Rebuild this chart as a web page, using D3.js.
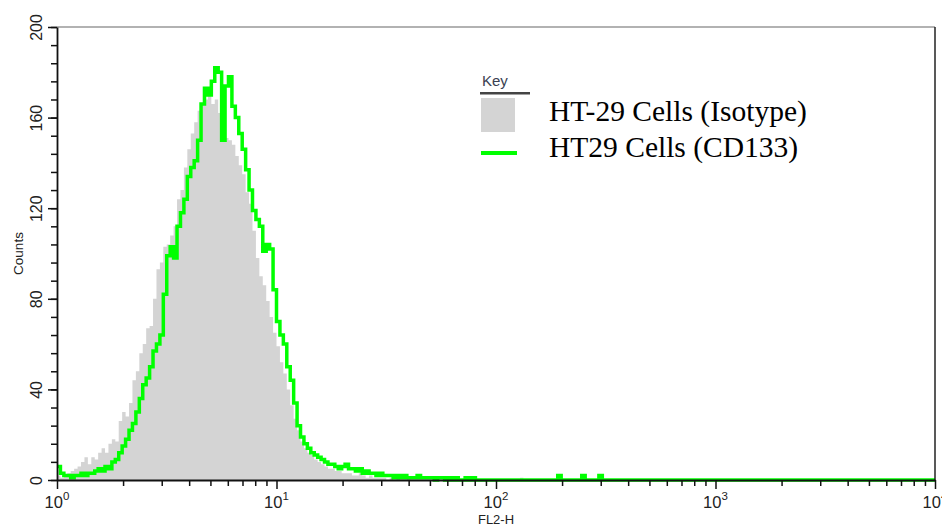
<!DOCTYPE html>
<html>
<head>
<meta charset="utf-8">
<script src="https://cdn.jsdelivr.net/npm/d3@7"></script>
<style>
  body { margin: 0; background: #fff; }
  svg { display: block; }
  .sans { font-family: "Liberation Sans", Arial, Helvetica, sans-serif; }
  .serif { font-family: "Liberation Serif", "Times New Roman", serif; }
</style>
</head>
<body>
<svg id="chart" class="sans" width="942" height="527"></svg>
<script>
// histogram values, one per channel (64 channels per decade, 10^0 .. 10^4)
const isotypeCounts = [
  2,1,2,3,4,5,6,8,10,7,10,9,12,14,12,16,
  18,17,26,30,28,34,44,48,56,60,67,68,80,93,96,103,
  104,108,112,124,128,138,146,153,158,163,166,168,171,166,168,162,
  160,151,150,148,143,139,135,127,122,110,98,90,86,79,72,65,
  59,52,47,40,33,27,22,17,14,12,11,9,8,7,6,5,
  5,4,4,3,3,3,2,2,3,2,1,2,1,1,1,1,
  0,1,0,1,0,0,1,0,0,0,0,0,0,0,0,0,
  0,0,0,0,0,0,0,0,0,0,0,0,0,0,0,0,
  0,0,0,0,0,0,0,1,0,0,0,0,0,0,0,0,
  0,0,0,0,0,0,0,0,0,0,0,0,0,0,0,0,
  0,0,0,0,0,0,0,0,0,0,0,0,0,0,0,0,
  0,0,0,0,0,0,0,0,0,0,0,0,0,0,0,0,
  0,0,0,0,0,0,0,0,0,0,0,0,0,0,0,0,
  0,0,0,0,0,0,0,0,0,0,0,0,0,0,0,0,
  0,0,0,0,0,0,0,0,0,0,0,0,0,0,0,0,
  0,0,0,0,0,0,0,0,0,0,0,0,0,0,0,0
];

const cd133Counts = [
  6,3,2,2,1,2,2,3,2,3,3,4,5,4,6,5,
  8,9,12,15,18,22,25,30,36,42,45,50,57,60,64,82,
  99,103,98,112,118,124,134,138,141,150,166,173,170,176,182,180,
  150,174,178,165,160,153,146,137,128,119,115,112,101,104,102,84,
  70,64,60,50,44,34,24,19,16,14,12,11,10,9,8,7,
  7,6,5,6,7,5,5,4,5,3,4,3,3,2,3,2,
  2,2,1,2,1,2,1,1,1,2,1,1,1,1,0,1,
  1,0,1,0,1,0,0,1,0,1,0,0,0,0,0,0,
  0,0,0,0,0,0,0,0,0,0,0,0,0,0,0,0,
  0,0,2,0,0,0,0,0,0,2,0,0,0,0,2,0,
  0,0,0,0,0,0,0,0,0,0,0,0,0,0,0,0,
  0,0,0,0,0,0,0,0,0,0,0,0,0,0,0,0,
  0,0,0,0,0,0,0,0,0,0,0,0,0,0,0,0,
  0,0,0,0,0,0,0,0,0,0,0,0,0,0,0,0,
  0,0,0,0,0,0,0,0,0,0,0,0,0,0,0,0,
  0,0,0,0,0,0,0,0,0,0,0,0,0,0,0,0
];

const seriesNames = ["HT-29 Cells (Isotype)", "HT29 Cells (CD133)"];
const yMajorTicks = [0, 40, 80, 120, 160, 200];
const xDecades = [1, 10, 100, 1000, 10000];
const xExponents = ["0", "1", "2", "3", "4"];
const channelsPerDecade = 64;

const svg = d3.select("#chart");
const plot = { left: 57, right: 935, top: 27, bottom: 480 };

const x = d3.scaleLog().domain([1, 10000]).range([plot.left, plot.right]);
const y = d3.scaleLinear().domain([0, 200]).range([plot.bottom, plot.top]);

// channel i spans [10^(i/64), 10^((i+1)/64)]
function toSteps(counts) {
  const pts = counts.map((v, i) => ({ lo: Math.pow(10, i / channelsPerDecade), v }));
  pts.push({ lo: 10000, v: counts[counts.length - 1] });
  return pts;
}

// filled isotype histogram
const area = d3.area()
  .curve(d3.curveStepAfter)
  .x(d => x(d.lo))
  .y0(y(0))
  .y1(d => y(d.v));

svg.append("path")
  .datum(toSteps(isotypeCounts))
  .attr("d", area)
  .attr("fill", "#d4d4d4");

// CD133 outline
const line = d3.line()
  .curve(d3.curveStepAfter)
  .x(d => x(d.lo))
  .y(d => y(d.v));

svg.append("path")
  .datum(toSteps(cd133Counts))
  .attr("d", line)
  .attr("fill", "none")
  .attr("stroke", "#00ff00")
  .attr("stroke-width", 3.5);

// frame (top + right)
svg.append("line")
  .attr("x1", plot.left).attr("x2", plot.right)
  .attr("y1", plot.top).attr("y2", plot.top)
  .attr("stroke", "#666").attr("stroke-width", 1.2);
svg.append("line")
  .attr("x1", plot.right).attr("x2", plot.right)
  .attr("y1", plot.top).attr("y2", plot.bottom)
  .attr("stroke", "#222").attr("stroke-width", 1.5);

// y axis
const yMinor = svg.append("g")
  .attr("transform", `translate(${plot.left},0)`)
  .call(d3.axisLeft(y).tickValues(d3.range(0, 201, 8)).tickSize(6).tickFormat(""));
yMinor.select(".domain").remove();

const yAxis = svg.append("g")
  .attr("transform", `translate(${plot.left},0)`)
  .call(d3.axisLeft(y).tickValues(yMajorTicks).tickSize(9).tickSizeOuter(0));
yAxis.attr("font-family", null).attr("font-size", 16);
yAxis.selectAll("text")
  .attr("transform", "rotate(-90)")
  .attr("x", 0).attr("y", -15).attr("dy", 0)
  .attr("text-anchor", "middle")
  .attr("fill", "#222");

// x axis
const minorX = [];
xDecades.slice(0, -1).forEach(d => { for (let m = 2; m <= 9; m++) minorX.push(d * m); });

const xMinor = svg.append("g")
  .attr("transform", `translate(0,${plot.bottom})`)
  .call(d3.axisBottom(x).tickValues(minorX).tickSize(6).tickFormat(""));
xMinor.select(".domain").remove();

const xAxis = svg.append("g")
  .attr("transform", `translate(0,${plot.bottom})`)
  .call(d3.axisBottom(x).tickValues(xDecades).tickSize(9).tickSizeOuter(0).tickFormat(""));

[yMinor, yAxis, xMinor, xAxis].forEach(g => {
  g.selectAll("line").attr("stroke", "#111").attr("stroke-width", 1.5);
  g.selectAll(".domain").attr("stroke", "#111").attr("stroke-width", 1.8);
});

const xLabels = svg.append("g");
xDecades.forEach((d, i) => {
  const t = xLabels.append("text")
    .attr("x", x(d)).attr("y", 508)
    .attr("text-anchor", "middle")
    .attr("font-size", 16.5)
    .attr("fill", "#222");
  t.append("tspan").text("10");
  t.append("tspan").attr("dy", -8).attr("font-size", 11.5).text(xExponents[i]);
});

// axis titles
svg.append("text")
  .attr("x", (plot.left + plot.right) / 2).attr("y", 524)
  .attr("text-anchor", "middle")
  .attr("font-size", 13)
  .attr("fill", "#222")
  .text("FL2-H");

svg.append("text")
  .attr("transform", `translate(23,${(plot.top + plot.bottom) / 2}) rotate(-90)`)
  .attr("text-anchor", "middle")
  .attr("font-size", 13.5)
  .attr("fill", "#222")
  .text("Counts");

// legend
const legend = svg.append("g");
legend.append("text")
  .attr("x", 482).attr("y", 86)
  .attr("font-size", 15)
  .attr("fill", "#3a4152")
  .text("Key");
legend.append("rect")
  .attr("x", 480).attr("y", 92)
  .attr("width", 50).attr("height", 2.5)
  .attr("fill", "#444");
legend.append("rect")
  .attr("x", 481).attr("y", 98)
  .attr("width", 34).attr("height", 34)
  .attr("fill", "#d4d4d4");
legend.append("line")
  .attr("x1", 481).attr("x2", 517)
  .attr("y1", 153).attr("y2", 153)
  .attr("stroke", "#00ff00").attr("stroke-width", 4);

[121, 157].forEach((yy, i) => {
  legend.append("text")
    .attr("class", "serif")
    .attr("x", 549).attr("y", yy)
    .attr("font-size", 29.5)
    .attr("fill", "#000")
    .text(seriesNames[i]);
});
</script>
</body>
</html>
